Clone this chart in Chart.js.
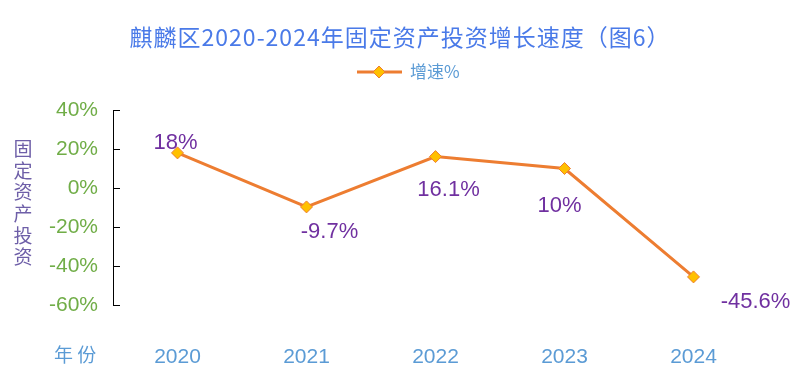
<!DOCTYPE html>
<html><head><meta charset="utf-8">
<script src="https://cdn.jsdelivr.net/npm/chart.js@4/dist/chart.umd.min.js"></script>
<style>html,body{margin:0;padding:0;background:#fff}#wrap{width:799px;height:384px}</style>
</head><body><div id="wrap"><canvas id="c" width="799" height="384"></canvas></div>
<script>
const categories = ['2020','2021','2022','2023','2024'];
const growth = [18, -9.7, 16.1, 10, -45.6];
const growthLabels = ['18%','-9.7%','16.1%','10%','-45.6%'];
const yTicks = [40, 20, 0, -20, -40, -60];
const titleText = '麒麟区2020-2024年固定资产投资增长速度（图6）';
const legendText = '增速%';
const yTitle = '固定资产投资';
const xTitle = '年 份';

const labelOffsets = [[-2,-10],[23,25],[13,33],[-5,37],[62,25]];
const FONT = '"Noto Sans CJK SC","Noto Sans",sans-serif';
const LAT = '"Liberation Sans",Arial,sans-serif';
const LINE = '#ed7d31', MARK = '#ffc000';

const deco = {
  id: 'deco',
  afterDraw(chart) {
    const ctx = chart.ctx, ys = chart.scales.y, ca = chart.chartArea;
    ctx.save();
    // title
    ctx.fillStyle = '#4a7ae8';
    ctx.font = '23px ' + FONT;
    ctx.textAlign = 'center'; ctx.textBaseline = 'middle';
    try { ctx.letterSpacing = '1px'; } catch (e) {}
    ctx.fillText(titleText, 400, 37);
    try { ctx.letterSpacing = '0px'; } catch (e) {}
    // legend
    ctx.strokeStyle = LINE; ctx.lineWidth = 3;
    ctx.beginPath(); ctx.moveTo(357, 72); ctx.lineTo(402, 72); ctx.stroke();
    drawDiamond(ctx, 379, 72, 6);
    ctx.fillStyle = '#5b9bd5'; ctx.font = '17px ' + FONT; ctx.textAlign = 'left';
    ctx.fillText(legendText, 410, 72);
    // y ticks inside
    ctx.strokeStyle = '#000'; ctx.lineWidth = 1;
    yTicks.forEach(v => {
      const y = Math.round(ys.getPixelForValue(v)) + 0.5;
      ctx.beginPath(); ctx.moveTo(ca.left, y); ctx.lineTo(ca.left + 7, y); ctx.stroke();
    });
    // y title stacked
    ctx.fillStyle = '#6e5fa8'; ctx.font = '19px ' + FONT; ctx.textAlign = 'center';
    [...yTitle].forEach((ch, i) => ctx.fillText(ch, 23, 149 + i * 21.6));
    // x title
    ctx.fillStyle = '#5b9bd5'; ctx.font = '19px ' + FONT; ctx.textAlign = 'left';
    ctx.fillText(xTitle, 54, 355);
    // data labels
    const meta = chart.getDatasetMeta(0);
    ctx.fillStyle = '#7030a0'; ctx.font = '22px ' + LAT; ctx.textAlign = 'center';
    meta.data.forEach((pt, i) => {
      ctx.fillText(growthLabels[i], pt.x + labelOffsets[i][0], pt.y + labelOffsets[i][1]);
    });
    ctx.restore();
  }
};
function drawDiamond(ctx, x, y, r) {
  ctx.beginPath();
  ctx.moveTo(x, y - r); ctx.lineTo(x + r, y); ctx.lineTo(x, y + r); ctx.lineTo(x - r, y); ctx.closePath();
  ctx.fillStyle = MARK; ctx.fill();
  ctx.strokeStyle = LINE; ctx.lineWidth = 1; ctx.stroke();
}

new Chart(document.getElementById('c'), {
  type: 'line',
  data: {
    labels: categories,
    datasets: [{
      label: legendText, data: growth,
      borderColor: LINE, borderWidth: 3, tension: 0,
      pointStyle: 'rectRot', pointRadius: 6, pointHoverRadius: 6,
      pointBackgroundColor: MARK, pointBorderColor: LINE, pointBorderWidth: 1
    }]
  },
  options: {
    responsive: false, animation: false, devicePixelRatio: 1,
    layout: { padding: { top: 110, right: 41, left: 0, bottom: 0 } },
    plugins: { legend: { display: false }, title: { display: false }, tooltip: { enabled: false } },
    scales: {
      x: {
        offset: true,
        grid: { display: false, drawTicks: false },
        border: { display: false },
        ticks: { color: '#5b9bd5', font: { size: 21, family: LAT }, padding: 40, maxRotation: 0 },
        afterFit(s) { s.height = 79; }
      },
      y: {
        min: -60, max: 40,
        grid: { display: false, drawTicks: false },
        border: { display: true, color: '#000', width: 1 },
        ticks: { stepSize: 20, color: '#70ad47', font: { size: 21, family: LAT }, padding: 15,
                 callback: v => v + '%' },
        afterFit(s) { s.width = 113; }
      }
    }
  },
  plugins: [deco]
});
</script></body></html>
